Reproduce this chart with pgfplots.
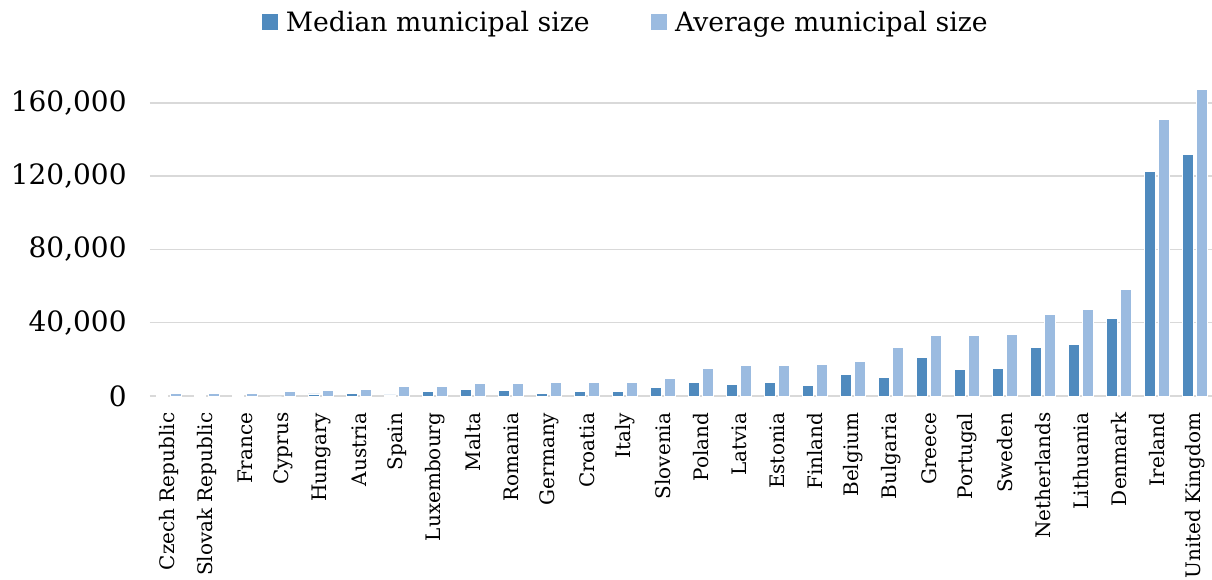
\documentclass[border=0pt]{standalone}
\usepackage{fontspec}
\setmainfont{DejaVu Serif}
\usepackage{pgfplots}
\pgfplotsset{compat=1.18}
\definecolor{medc}{HTML}{4F8ABE}
\definecolor{avgc}{HTML}{9BBBE0}
\definecolor{gridc}{HTML}{D9D9D9}
\begin{document}
\begin{tikzpicture}
\begin{axis}[
  at={(0,0)}, anchor=south west,
  scale only axis,
  width=798pt, height=240.4pt,
  xmin=-0.5, xmax=27.5,
  ymin=0, ymax=175000,
  ybar=2.25pt, bar width=8.5pt,
  axis x line*=bottom, axis y line*=left,
  x axis line style={gridc, line width=1.1pt},
  y axis line style={draw=none},
  ymajorgrids, grid style={gridc, line width=1.1pt},
  ytick={0,40000,80000,120000,160000},
  major tick length=0pt,
  scaled y ticks=false,
  /pgf/number format/.cd, fixed, precision=0, 1000 sep={,}, assume math mode=true,
  /pgfplots/.cd,
  yticklabel style={font=\fontsize{21}{24}\selectfont, anchor=east, xshift=-14pt},
  xtick=data,
  xticklabels={Czech Republic,Slovak Republic,France,Cyprus,Hungary,Austria,Spain,Luxembourg,Malta,Romania,Germany,Croatia,Italy,Slovenia,Poland,Latvia,Estonia,Finland,Belgium,Bulgaria,Greece,Portugal,Sweden,Netherlands,Lithuania,Denmark,Ireland,United Kingdom},
  xticklabel style={font=\fontsize{15}{18}\selectfont, rotate=90, anchor=east},
  xticklabel shift=9pt,
  clip=false,
  legend columns=2,
  legend style={draw=none, fill=none, at={(0.4475,1.167)}, anchor=center,
    font=\fontsize{20}{24}\selectfont,
    /tikz/every odd column/.append style={column sep=0pt},
    /tikz/every even column/.append style={column sep=44pt}},
  legend image code/.code={\fill[#1,draw=none] (0pt,-6pt) rectangle (12pt,6pt);},
]
\addplot[fill=medc, draw=white, line width=0.6pt] coordinates {
(0,400) (1,400) (2,400) (3,0) (4,1100) (5,1640) (6,550) (7,2360) (8,3800) (9,3100)
(10,1450) (11,2360) (12,2360) (13,4550) (14,7270) (15,6550) (16,7270) (17,6000) (18,11640) (19,10360)
(20,21100) (21,14550) (22,15270) (23,26700) (24,28200) (25,42360) (26,122550) (27,131800)};
\addlegendentry{\hspace{4pt}Median municipal size}
\addplot[fill=avgc, draw=white, line width=0.6pt] coordinates {
(0,1640) (1,1640) (2,1640) (3,2360) (4,3100) (5,3800) (6,5300) (7,5300) (8,6730) (9,6730)
(10,7270) (11,7270) (12,7270) (13,9450) (14,15270) (15,16700) (16,16700) (17,17450) (18,18900) (19,26700)
(20,33100) (21,33100) (22,33800) (23,44550) (24,47450) (25,58200) (26,151100) (27,167450)};
\addlegendentry{\hspace{4pt}Average municipal size}
\end{axis}
\pgfresetboundingbox
\path[use as bounding box] (-112.5pt,-137.25pt) rectangle (796.5pt,297pt);
\end{tikzpicture}
\end{document}
